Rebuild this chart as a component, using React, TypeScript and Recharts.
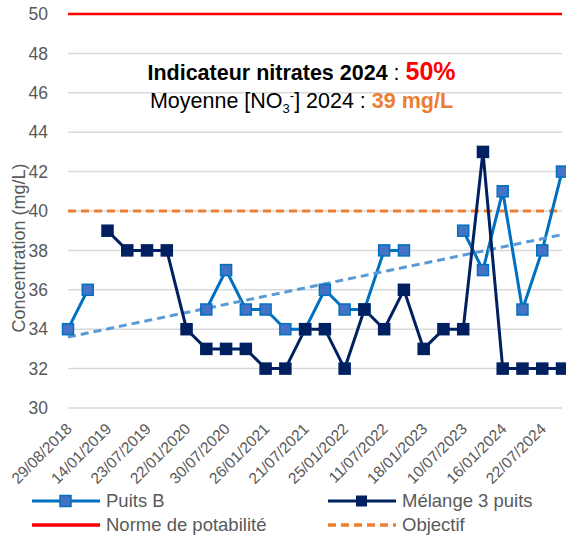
import { LineChart, Line, XAxis, YAxis, CartesianGrid, ReferenceLine } from "recharts";

const dates = [
  "29/08/2018", "06/11/2018", "14/01/2019", "16/04/2019", "23/07/2019", "15/10/2019",
  "22/01/2020", "28/04/2020", "30/07/2020", "20/10/2020", "26/01/2021", "20/04/2021",
  "21/07/2021", "19/10/2021", "25/01/2022", "19/04/2022", "11/07/2022", "18/10/2022",
  "18/01/2023", "18/04/2023", "10/07/2023", "17/10/2023", "16/01/2024", "16/04/2024",
  "22/07/2024", "15/10/2024",
];

const puitsB = [
  34, 36, null, null, null, null, null, 35, 37, 35, 35, 34, 34,
  36, 35, 35, 38, 38, null, null, 39, 37, 41, 35, 38, 42,
];

const melange = [
  null, null, 39, 38, 38, 38, 34, 33, 33, 33, 32, 32, 34,
  34, 32, 35, 34, 36, 33, 34, 34, 43, 32, 32, 32, 32,
];

// linear trend of Puits B: value at first and last date only
const trendStart = 33.6;
const trendEnd = 38.8;

const yTicks = [30, 32, 34, 36, 38, 40, 42, 44, 46, 48, 50];
const norme = 50;
const objectif = 40;

const data = dates.map((d, i) => ({
  date: d,
  puitsB: puitsB[i],
  melange: melange[i],
  trend: i === 0 ? trendStart : i === dates.length - 1 ? trendEnd : null,
}));

const FONT = "'Liberation Sans', Arial, sans-serif";

const square = (fill: string, stroke: string, size: number) => (props: any) => {
  const { cx, cy, value, index } = props;
  if (value == null || cx == null || cy == null) return <g key={index} />;
  return (
    <rect
      key={index}
      x={cx - size / 2}
      y={cy - size / 2}
      width={size}
      height={size}
      fill={fill}
      stroke={stroke}
      strokeWidth={1.5}
    />
  );
};

const XTick = (props: any) => {
  const { x, y, payload } = props;
  return (
    <g transform={`translate(${x - 3},${y + 6})`}>
      <text
        textAnchor="end"
        transform="rotate(-45)"
        dy="0.71em"
        fill="#595959"
        fontSize={15.5}
        fontFamily={FONT}
      >
        {payload.value}
      </text>
    </g>
  );
};

const YTitle = () => (
  <text
    transform="translate(25,248) rotate(-90)"
    textAnchor="middle"
    fill="#595959"
    fontSize={18}
    fontFamily={FONT}
  >
    Concentration (mg/L)
  </text>
);

const LegendItem = ({ children, icon }: any) => (
  <div style={{ display: "flex", alignItems: "center", height: 24 }}>
    <svg width={72} height={14} style={{ marginRight: 4 }}>{icon}</svg>
    <span>{children}</span>
  </div>
);

export default function App() {
  return (
    <div style={{ position: "absolute", left: 0, top: 0, width: 566, height: 535, background: "#fff", overflow: "hidden", fontFamily: FONT }}>
      <LineChart width={566} height={535} data={data} margin={{ top: 14, right: 4, left: 0, bottom: 0 }}>
        <CartesianGrid vertical={false} stroke="#d9d9d9" strokeWidth={1.5} />
        <XAxis
          dataKey="date"
          interval={1}
          tick={<XTick />}
          tickLine={false}
          axisLine={false}
          height={127}
        />
        <YAxis
          domain={[30, 50]}
          ticks={yTicks}
          width={68}
          axisLine={false}
          tickLine={false}
          tick={{ fill: "#595959", fontSize: 17.5, fontFamily: FONT }}
          tickMargin={14}
          label={<YTitle />}
        />
        <ReferenceLine y={norme} stroke="#ff0000" strokeWidth={2.5} />
        <ReferenceLine y={objectif} stroke="#ed7d31" strokeWidth={3} strokeDasharray="8 5" />
        <Line
          dataKey="puitsB"
          stroke="#0070c0"
          strokeWidth={3}
          dot={square("#4472c4", "#0070c0", 11)}
          isAnimationActive={false}
        />
        <Line
          dataKey="trend"
          stroke="#5b9bd5"
          strokeWidth={3}
          strokeDasharray="8 5"
          connectNulls
          dot={false}
          activeDot={false}
          isAnimationActive={false}
        />
        <Line
          dataKey="melange"
          stroke="#002060"
          strokeWidth={3}
          dot={square("#002060", "#002060", 11)}
          isAnimationActive={false}
        />
      </LineChart>

      <div style={{ position: "absolute", left: 0, width: 603, top: 57, textAlign: "center", color: "#000", lineHeight: "28px" }}>
        <div style={{ fontSize: 21.5 }}>
          <b>Indicateur nitrates 2024</b> : <b style={{ color: "#ff0000", fontSize: 25 }}>50%</b>
        </div>
        <div style={{ fontSize: 21.5 }}>
          Moyenne [NO<sub style={{ fontSize: 13, lineHeight: 0 }}>3</sub>
          <sup style={{ fontSize: 13, lineHeight: 0 }}>-</sup>] 2024 :{" "}
          <b style={{ color: "#ed7d31" }}>39 mg/L</b>
        </div>
      </div>

      <div style={{ position: "absolute", left: 30, top: 489, fontSize: 18.5, lineHeight: "22px", color: "#595959", display: "grid", gridTemplateColumns: "296px 240px" }}>
        <LegendItem
          icon={
            <g>
              <line x1={2} y1={7} x2={70} y2={7} stroke="#0070c0" strokeWidth={3} />
              <rect x={30} y={1.5} width={11} height={11} fill="#4472c4" stroke="#0070c0" strokeWidth={1.5} />
            </g>
          }
        >
          Puits B
        </LegendItem>
        <LegendItem
          icon={
            <g>
              <line x1={2} y1={7} x2={70} y2={7} stroke="#002060" strokeWidth={3} />
              <rect x={30} y={1.5} width={11} height={11} fill="#002060" />
            </g>
          }
        >
          Mélange 3 puits
        </LegendItem>
        <LegendItem icon={<line x1={2} y1={7} x2={70} y2={7} stroke="#ff0000" strokeWidth={3.5} />}>
          Norme de potabilité
        </LegendItem>
        <LegendItem icon={<line x1={2} y1={7} x2={70} y2={7} stroke="#ed7d31" strokeWidth={3.5} strokeDasharray="8 5" />}>
          Objectif
        </LegendItem>
      </div>
    </div>
  );
}
